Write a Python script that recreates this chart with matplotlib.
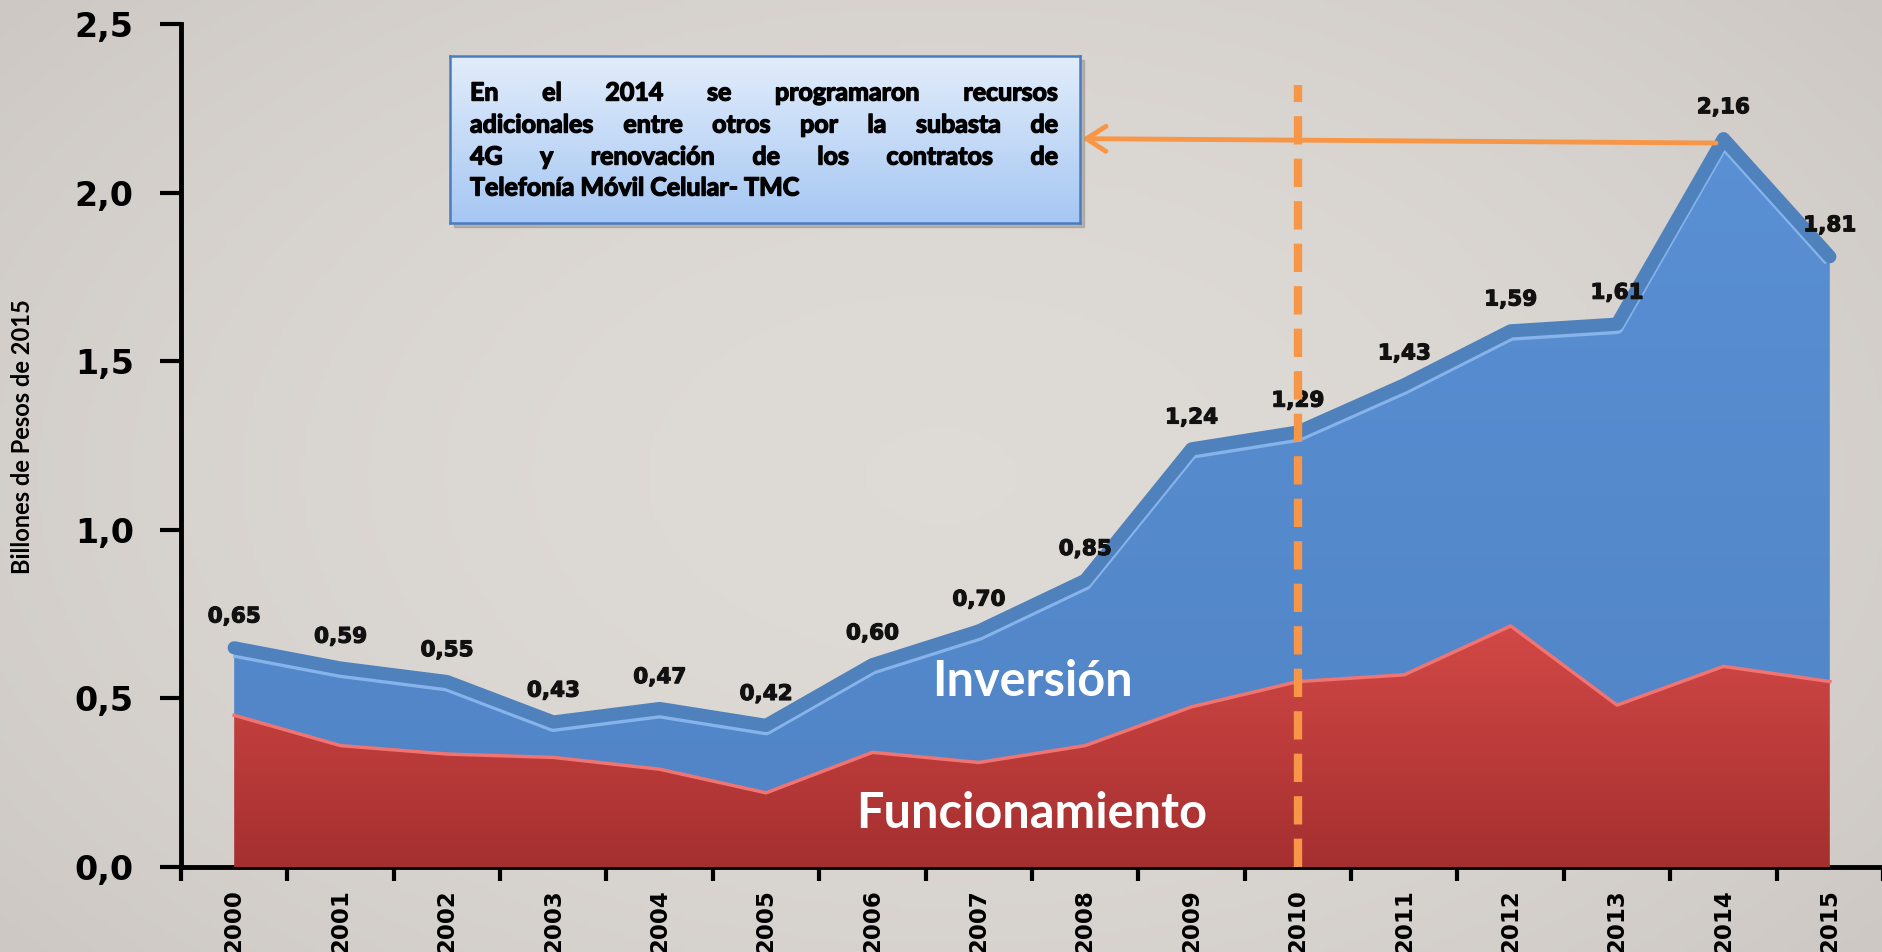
import numpy as np
import matplotlib.pyplot as plt
import matplotlib.patheffects as pe
from matplotlib.colors import LinearSegmentedColormap
from matplotlib.patches import Rectangle

plt.switch_backend('Agg')

# datos (billones de pesos de 2015)
anios = ['2000', '2001', '2002', '2003', '2004', '2005', '2006', '2007',
         '2008', '2009', '2010', '2011', '2012', '2013', '2014', '2015']
total = [0.65, 0.59, 0.55, 0.43, 0.47, 0.42, 0.60, 0.70,
         0.85, 1.24, 1.29, 1.43, 1.59, 1.61, 2.16, 1.81]
funcionamiento = [0.45, 0.36, 0.335, 0.325, 0.29, 0.22, 0.34, 0.31,
                  0.36, 0.475, 0.55, 0.57, 0.715, 0.48, 0.595, 0.55]
y_ticks = [0.0, 0.5, 1.0, 1.5, 2.0, 2.5]
y_tick_labels = ['0,0', '0,5', '1,0', '1,5', '2,0', '2,5']
nota = ['En el 2014 se programaron recursos',
        'adicionales entre otros por la subasta de',
        '4G y  renovación de los contratos de',
        'Telefonía Móvil Celular- TMC']

W, H = 1883, 952
fig = plt.figure(figsize=(W / 100, H / 100), dpi=100)

# fondo gris claro con un degradado suave
bg = fig.add_axes([0, 0, 1, 1], zorder=-10)
gy, gx = np.mgrid[-1:1:200j, -1:1:400j]
vig = 1 - 0.12 * (gx ** 2 * 0.6 + gy ** 2 * 0.4)
bg_cmap = LinearSegmentedColormap.from_list('bg', ['#cdc8c4', '#dedad6'])
bg.imshow(vig, cmap=bg_cmap, aspect='auto', vmin=0.88, vmax=1.0)
bg.axis('off')

ax = fig.add_axes([181 / W, 85 / H, (W - 181) / W, (867 - 24) / H])
ax.set_facecolor('none')
x = np.arange(len(anios))
total_a = np.array(total)
func_a = np.array(funcionamiento)


def relleno_degradado(y0, y1, c_top, c_bottom, ytop, z):
    poly = ax.fill_between(x, y0, y1, facecolor='none', edgecolor='none')
    cmap = LinearSegmentedColormap.from_list('g', [c_bottom, c_top])
    grad = np.linspace(0, 1, 256).reshape(-1, 1)
    im = ax.imshow(grad, cmap=cmap, aspect='auto', origin='lower',
                   extent=[-0.5, 15.5, 0, ytop], zorder=z)
    im.set_clip_path(poly.get_paths()[0], transform=ax.transData)


relleno_degradado(func_a, total_a, '#5a90d4', '#5084c6', 2.2, 2)
relleno_degradado(0, func_a, '#d44a47', '#a52f2f', 0.75, 3)

# borde del área roja
ax.plot(x, func_a, color='#ef7472', lw=2.5, zorder=3.5,
        solid_joinstyle='round')

# banda superior de la serie total
ax.plot(x, total_a - 0.010, color='#86b3ea', lw=9.5, zorder=4,
        solid_joinstyle='round', solid_capstyle='butt')
ax.plot(x, total_a, color='#4f81bd', lw=9.5, zorder=4.2,
        solid_joinstyle='round', solid_capstyle='round')

# etiquetas de valores
for i, v in enumerate(total):
    ax.text(i, v + 0.093, f'{v:.2f}'.replace('.', ','), ha='center',
            va='center', fontsize=15.5, fontweight='bold', color='#111111',
            family='DejaVu Sans', zorder=5,
            path_effects=[pe.withStroke(linewidth=0.8, foreground='#111111')])

ax.text(7.5, 0.55, 'Inversión', ha='center', va='center', color='white',
        fontsize=35, fontweight='bold', family='Lato', zorder=6)
ax.text(7.5, 0.16, 'Funcionamiento', ha='center', va='center',
        color='white', fontsize=35, fontweight='bold', family='Lato',
        zorder=6)

# línea punteada en 2010
ax.plot([10, 10], [0, 2.32], color='#f79646', lw=6, dashes=(3.4, 1.7),
        zorder=7)

# flecha hacia el recuadro
ax.annotate('', xy=(7.97, 2.16), xytext=(13.93, 2.147),
            arrowprops=dict(arrowstyle='->,head_length=0.7,head_width=0.45',
                            color='#f79646', lw=3.5, mutation_scale=20,
                            shrinkA=0, shrinkB=0), zorder=7)

ax.set_xlim(-0.5, 15.5)
ax.set_ylim(0, 2.5)
ax.set_xticks(np.arange(-0.5, 15.6, 1))
ax.set_xticklabels([])
ax.set_xticks(x, minor=True)
ax.set_xticklabels(anios, minor=True, rotation=90, fontsize=16.5,
                   fontweight='bold', family='DejaVu Sans')
ax.tick_params(axis='x', which='minor', length=0, pad=16)
ax.tick_params(axis='x', which='major', length=10, width=3, direction='out')
ax.set_yticks(y_ticks)
ax.set_yticklabels(y_tick_labels, fontsize=24, fontweight='bold',
                   family='DejaVu Sans')
ax.tick_params(axis='y', length=15, width=3, pad=19)
for s in ['top', 'right']:
    ax.spines[s].set_visible(False)
for s in ['left', 'bottom']:
    ax.spines[s].set_linewidth(3.5)

fig.text(23 / W, 1 - 437 / H, 'Billones de Pesos de 2015', rotation=90,
         ha='center', va='center', fontsize=17, fontweight='bold',
         family='Lato')

# recuadro con la nota
bx0, bx1, by0, by1 = 450, 1080, 56, 223
fig.patches.append(Rectangle(((bx0 + 4) / W, 1 - (by1 + 4) / H),
                             (bx1 - bx0) / W, (by1 - by0) / H,
                             transform=fig.transFigure, color='#8a8580',
                             alpha=0.45, zorder=8))
box = fig.add_axes([bx0 / W, 1 - by1 / H, (bx1 - bx0) / W, (by1 - by0) / H],
                   zorder=9)
box_cmap = LinearSegmentedColormap.from_list('b', ['#a6c7f3', '#e2edfb'])
box.imshow(np.linspace(0, 1, 100).reshape(-1, 1), cmap=box_cmap,
           aspect='auto', origin='lower')
box.set_xticks([])
box.set_yticks([])
for s in box.spines.values():
    s.set_color('#4a7cc0')
    s.set_linewidth(1.8)

# texto justificado
renderer = fig.canvas.get_renderer()
tx0, tx1 = 470, 1058
line_y = [93, 125, 157, 188]
props = dict(fontsize=18, fontweight='bold', family='Lato',
             color='black', zorder=10,
             path_effects=[pe.withStroke(linewidth=1.0, foreground='black')])
for k, linea in enumerate(nota):
    palabras = linea.split()
    yf = 1 - line_y[k] / H
    if k == len(nota) - 1:
        fig.text(tx0 / W, yf, linea, ha='left', va='center', **props)
        continue
    anchos = []
    for p in palabras:
        t = fig.text(0, 0, p, **props)
        anchos.append(t.get_window_extent(renderer).width)
        t.remove()
    hueco = (tx1 - tx0 - sum(anchos)) / (len(palabras) - 1)
    xp = tx0
    for p, a in zip(palabras, anchos):
        fig.text(xp / W, yf, p, ha='left', va='center', **props)
        xp += a + hueco

fig.savefig('out.png', dpi=100)
